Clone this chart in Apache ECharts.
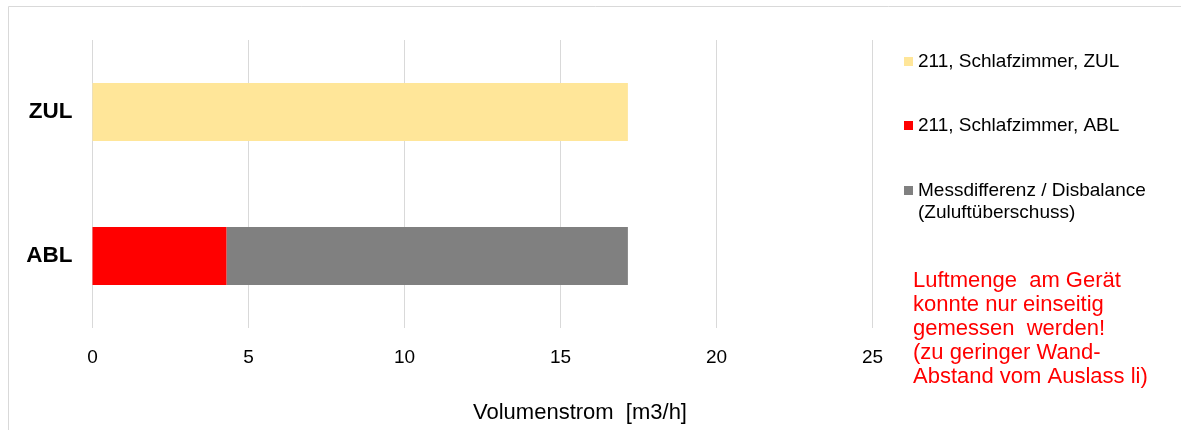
<!DOCTYPE html>
<html>
<head>
<meta charset="utf-8">
<script src="https://cdn.jsdelivr.net/npm/echarts@6/dist/echarts.min.js"></script>
<style>
  html, body { margin: 0; padding: 0; background: #fff; }
  #chart { width: 1181px; height: 430px; }
</style>
</head>
<body>
<div id="chart"></div>
<script>
// ---- data ----
var categories = ['ZUL', 'ABL'];
var seriesNames = ['211, Schlafzimmer, ZUL', '211, Schlafzimmer, ABL', 'Messdifferenz / Disbalance\n(Zuluftüberschuss)'];
var zulValues = [17.16, null];
var ablValues = [null, 4.3];
var diffValues = [null, 12.86];
var xTicks = [0, 5, 10, 15, 20, 25];
var axisTitle = 'Volumenstrom  [m3/h]';
var noteText = 'Luftmenge  am Gerät\nkonnte nur einseitig\ngemessen  werden!\n(zu geringer Wand-\nAbstand vom Auslass li)';

var colors = ['#FFE699', '#FF0000', '#808080'];
var FONT = 'Liberation Sans, Arial, sans-serif';

var chart = echarts.init(document.getElementById('chart'), null, { renderer: 'canvas' });

function legendFor(name, top) {
  return {
    data: [name],
    orient: 'vertical',
    left: 904,
    top: top,
    padding: 0,
    itemWidth: 9,
    itemHeight: 9,
    icon: 'rect',
    selectedMode: false,
    formatter: function (n) { return n.split('\n')[0]; },
    textStyle: { fontFamily: FONT, fontSize: 19, color: '#000', lineHeight: 23 }
  };
}

var option = {
  backgroundColor: '#fff',
  animation: false,
  color: colors,
  grid: { left: 92.5, right: 308.5, top: 40, bottom: 102, containLabel: false },
  legend: [
    legendFor(seriesNames[0], 50),
    legendFor(seriesNames[1], 114),
    legendFor(seriesNames[2], 179)
  ],
  xAxis: {
    type: 'value',
    min: xTicks[0],
    max: xTicks[xTicks.length - 1],
    interval: 5,
    axisLine: { show: false },
    axisTick: { show: false },
    splitLine: { show: true, lineStyle: { color: '#d9d9d9', width: 1 } },
    axisLabel: { fontFamily: FONT, fontSize: 19, color: '#000', margin: 20 }
  },
  yAxis: {
    type: 'category',
    data: categories,
    inverse: true,
    axisLine: { show: false },
    axisTick: { show: false },
    axisLabel: { fontFamily: FONT, fontSize: 22.5, fontWeight: 'bold', color: '#000', margin: 20 }
  },
  series: [
    { name: seriesNames[0], type: 'bar', stack: 'a', data: zulValues, barWidth: 58, itemStyle: { color: colors[0] } },
    { name: seriesNames[1], type: 'bar', stack: 'a', data: ablValues, barWidth: 58, itemStyle: { color: colors[1] } },
    { name: seriesNames[2], type: 'bar', stack: 'a', data: diffValues, barWidth: 58, itemStyle: { color: colors[2] } }
  ],
  graphic: [
    {
      type: 'rect', silent: true, z: -10,
      shape: { x: 8.5, y: 6.5, width: 1300, height: 600 },
      style: { fill: null, stroke: '#d9d9d9', lineWidth: 1 }
    },
    {
      type: 'text', silent: true,
      x: 918, y: 213,
      style: { text: seriesNames[2].split('\n')[1], fontFamily: FONT, fontSize: 19, fill: '#000', align: 'left', verticalAlign: 'middle' }
    },
    {
      type: 'text', silent: true,
      x: 580, y: 413,
      style: { text: axisTitle, fontFamily: FONT, fontSize: 22, fill: '#000', align: 'center', verticalAlign: 'middle' }
    },
    {
      type: 'text', silent: true,
      x: 913, y: 269,
      style: { text: noteText, fontFamily: FONT, fontSize: 22, lineHeight: 24, fill: '#FF0000', align: 'left', verticalAlign: 'top' }
    }
  ]
};
chart.setOption(option);
</script>
</body>
</html>
